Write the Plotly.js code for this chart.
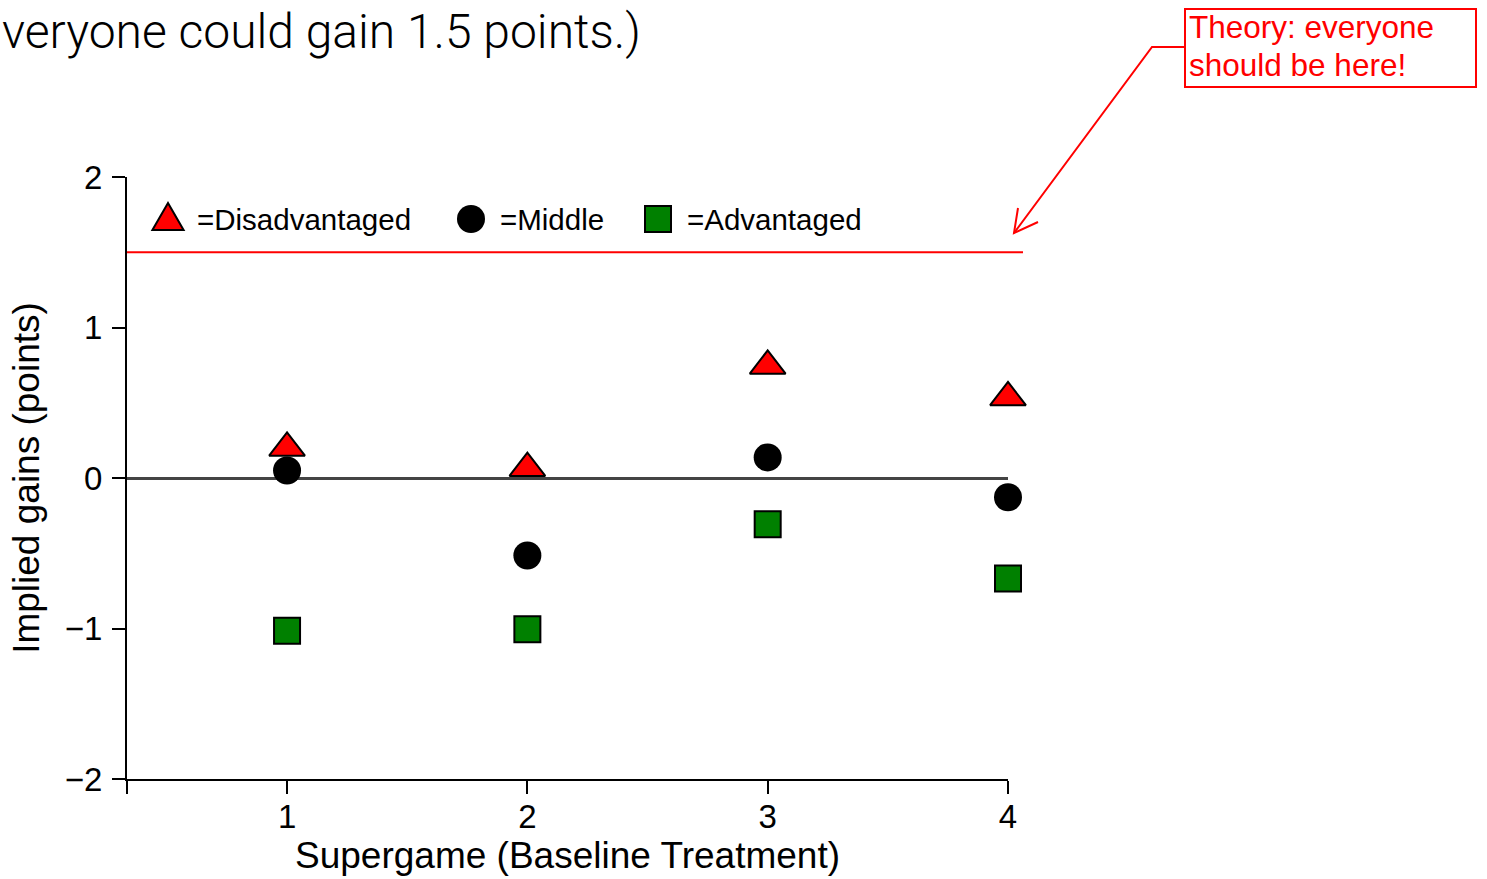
<!DOCTYPE html>
<html>
<head>
<meta charset="utf-8">
<script src="https://cdn.plot.ly/plotly-3.0.1.min.js"></script>
<style>html,body{margin:0;padding:0;background:#fff;}#chart{width:1487px;height:879px;}</style>
</head>
<body>
<div id="chart"></div>
<script>
// ---- data ----
const supergames = [1, 2, 3, 4];
const disadvantaged = [0.20, 0.065, 0.745, 0.535];
const middle = [0.05, -0.515, 0.137, -0.128];
const advantaged = [-1.015, -1.005, -0.307, -0.667];
const theoryGain = 1.5;
const yTicks = [-2, -1, 0, 1, 2];
const xTickLabels = ['1', '2', '3', '4'];
const legendLabels = ['=Disadvantaged', '=Middle', '=Advantaged'];
const titleText = 'veryone could gain 1.5 points.)';
const theoryLines = ['Theory: everyone', 'should be here!'];

// ---- layout geometry (pixels) ----
const W = 1487, H = 879;
const L = 127, Rr = 1008, T = 177, B = 779;
const PW = Rr - L, PH = B - T;
const px = p => (p - L) / PW;
const py = p => (B - p) / PH;
const XMIN = 0.334;

const FONT = 'Liberation Sans, Arial, sans-serif';
const RED = '#ff0000', GREEN = '#008000';

const traces = [
  {x: supergames, y: disadvantaged, name: legendLabels[0], type: 'scatter', mode: 'markers', cliponaxis: false,
   marker: {symbol: 'triangle-up', size: 31, color: RED, line: {color: '#000', width: 2}}},
  {x: supergames, y: middle, name: legendLabels[1], type: 'scatter', mode: 'markers', cliponaxis: false,
   marker: {symbol: 'circle', size: 28, color: '#000', line: {color: '#000', width: 0}}},
  {x: supergames, y: advantaged, name: legendLabels[2], type: 'scatter', mode: 'markers', cliponaxis: false,
   marker: {symbol: 'square', size: 26, color: GREEN, line: {color: '#000', width: 2}}}
];

const shapes = [];
const annotations = [];

// theory line (extends a bit beyond the plotting region)
shapes.push({type: 'line', xref: 'paper', yref: 'y', x0: 0, x1: px(1023), y0: theoryGain, y1: theoryGain,
  line: {color: RED, width: 2}, layer: 'above'});

// manual legend
const legCx = [168, 471, 658], legCy = 219, legTx = [197, 500, 687];
(function(){
  const cx = legCx[0], cy = legCy + 2, r = 18, hw = r * Math.sqrt(3) / 2;
  shapes.push({type: 'path', xref: 'paper', yref: 'paper',
    path: `M ${px(cx)} ${py(cy - r)} L ${px(cx + hw)} ${py(cy + r / 2)} L ${px(cx - hw)} ${py(cy + r / 2)} Z`,
    fillcolor: RED, line: {color: '#000', width: 2}});
})();
shapes.push({type: 'circle', xref: 'paper', yref: 'paper',
  x0: px(legCx[1] - 14), x1: px(legCx[1] + 14), y0: py(legCy + 14), y1: py(legCy - 14),
  fillcolor: '#000', line: {color: '#000', width: 0}});
shapes.push({type: 'rect', xref: 'paper', yref: 'paper',
  x0: px(legCx[2] - 13), x1: px(legCx[2] + 13), y0: py(legCy + 13), y1: py(legCy - 13),
  fillcolor: GREEN, line: {color: '#000', width: 2}});
legendLabels.forEach((t, i) => annotations.push({xref: 'paper', yref: 'paper', x: px(legTx[i] - 2), y: py(legCy),
  xanchor: 'left', yanchor: 'middle', text: t, showarrow: false, font: {family: FONT, size: 29.5, color: '#000'}}));

// theory box and arrow
shapes.push({type: 'rect', xref: 'paper', yref: 'paper', x0: px(1185), x1: px(1476), y0: py(87), y1: py(9),
  line: {color: RED, width: 2}, fillcolor: 'rgba(0,0,0,0)'});
shapes.push({type: 'path', xref: 'paper', yref: 'paper',
  path: `M ${px(1185)} ${py(47)} L ${px(1152)} ${py(47)} L ${px(1014)} ${py(233)}`,
  line: {color: RED, width: 2}});
shapes.push({type: 'path', xref: 'paper', yref: 'paper',
  path: `M ${px(1018)} ${py(208)} L ${px(1014)} ${py(233)} L ${px(1038)} ${py(222)}`,
  line: {color: RED, width: 2}});
theoryLines.forEach((t, i) => annotations.push({xref: 'paper', yref: 'paper', x: px(1187), y: py(27 + i * 38),
  xanchor: 'left', yanchor: 'middle', text: t, showarrow: false, font: {family: FONT, size: 31.5, color: RED}}));

// top title text
annotations.push({xref: 'paper', yref: 'paper', x: px(0), y: py(1), xanchor: 'left', yanchor: 'top',
  text: titleText, showarrow: false,
  font: {family: 'Roboto, Liberation Sans, sans-serif', weight: 300, size: 48, color: '#000'}});

const layout = {
  width: W, height: H,
  margin: {l: L, r: W - Rr, t: T, b: H - B, pad: 0},
  paper_bgcolor: '#fff', plot_bgcolor: '#fff',
  showlegend: false,
  font: {family: FONT, color: '#000'},
  xaxis: {
    range: [XMIN, 4], tickmode: 'array', tickvals: [XMIN].concat(supergames), ticktext: [''].concat(xTickLabels),
    showline: true, linecolor: '#000', linewidth: 2, ticks: 'outside', ticklen: 13, tickwidth: 2, tickcolor: '#000',
    tickfont: {family: FONT, size: 33, color: '#000'}, ticklabelstandoff: -6, showgrid: false, zeroline: false,
    title: {text: 'Supergame (Baseline Treatment)', font: {family: FONT, size: 37, color: '#000'}, standoff: 6}
  },
  yaxis: {
    range: [-2, 2], tickmode: 'array', tickvals: yTicks, ticktext: yTicks.map(v => (v < 0 ? '\u2212' + Math.abs(v) : String(v))),
    showline: true, linecolor: '#000', linewidth: 2, ticks: 'outside', ticklen: 13, tickwidth: 2, tickcolor: '#000',
    tickfont: {family: FONT, size: 33, color: '#000'}, ticklabelstandoff: 3, showgrid: false,
    zeroline: true, zerolinecolor: '#444', zerolinewidth: 3,
    title: {text: 'Implied gains (points)', font: {family: FONT, size: 37, color: '#000'}, standoff: 14}
  },
  shapes: shapes,
  annotations: annotations
};

Plotly.newPlot('chart', traces, layout, {displayModeBar: false, staticPlot: true});
</script>
</body>
</html>
